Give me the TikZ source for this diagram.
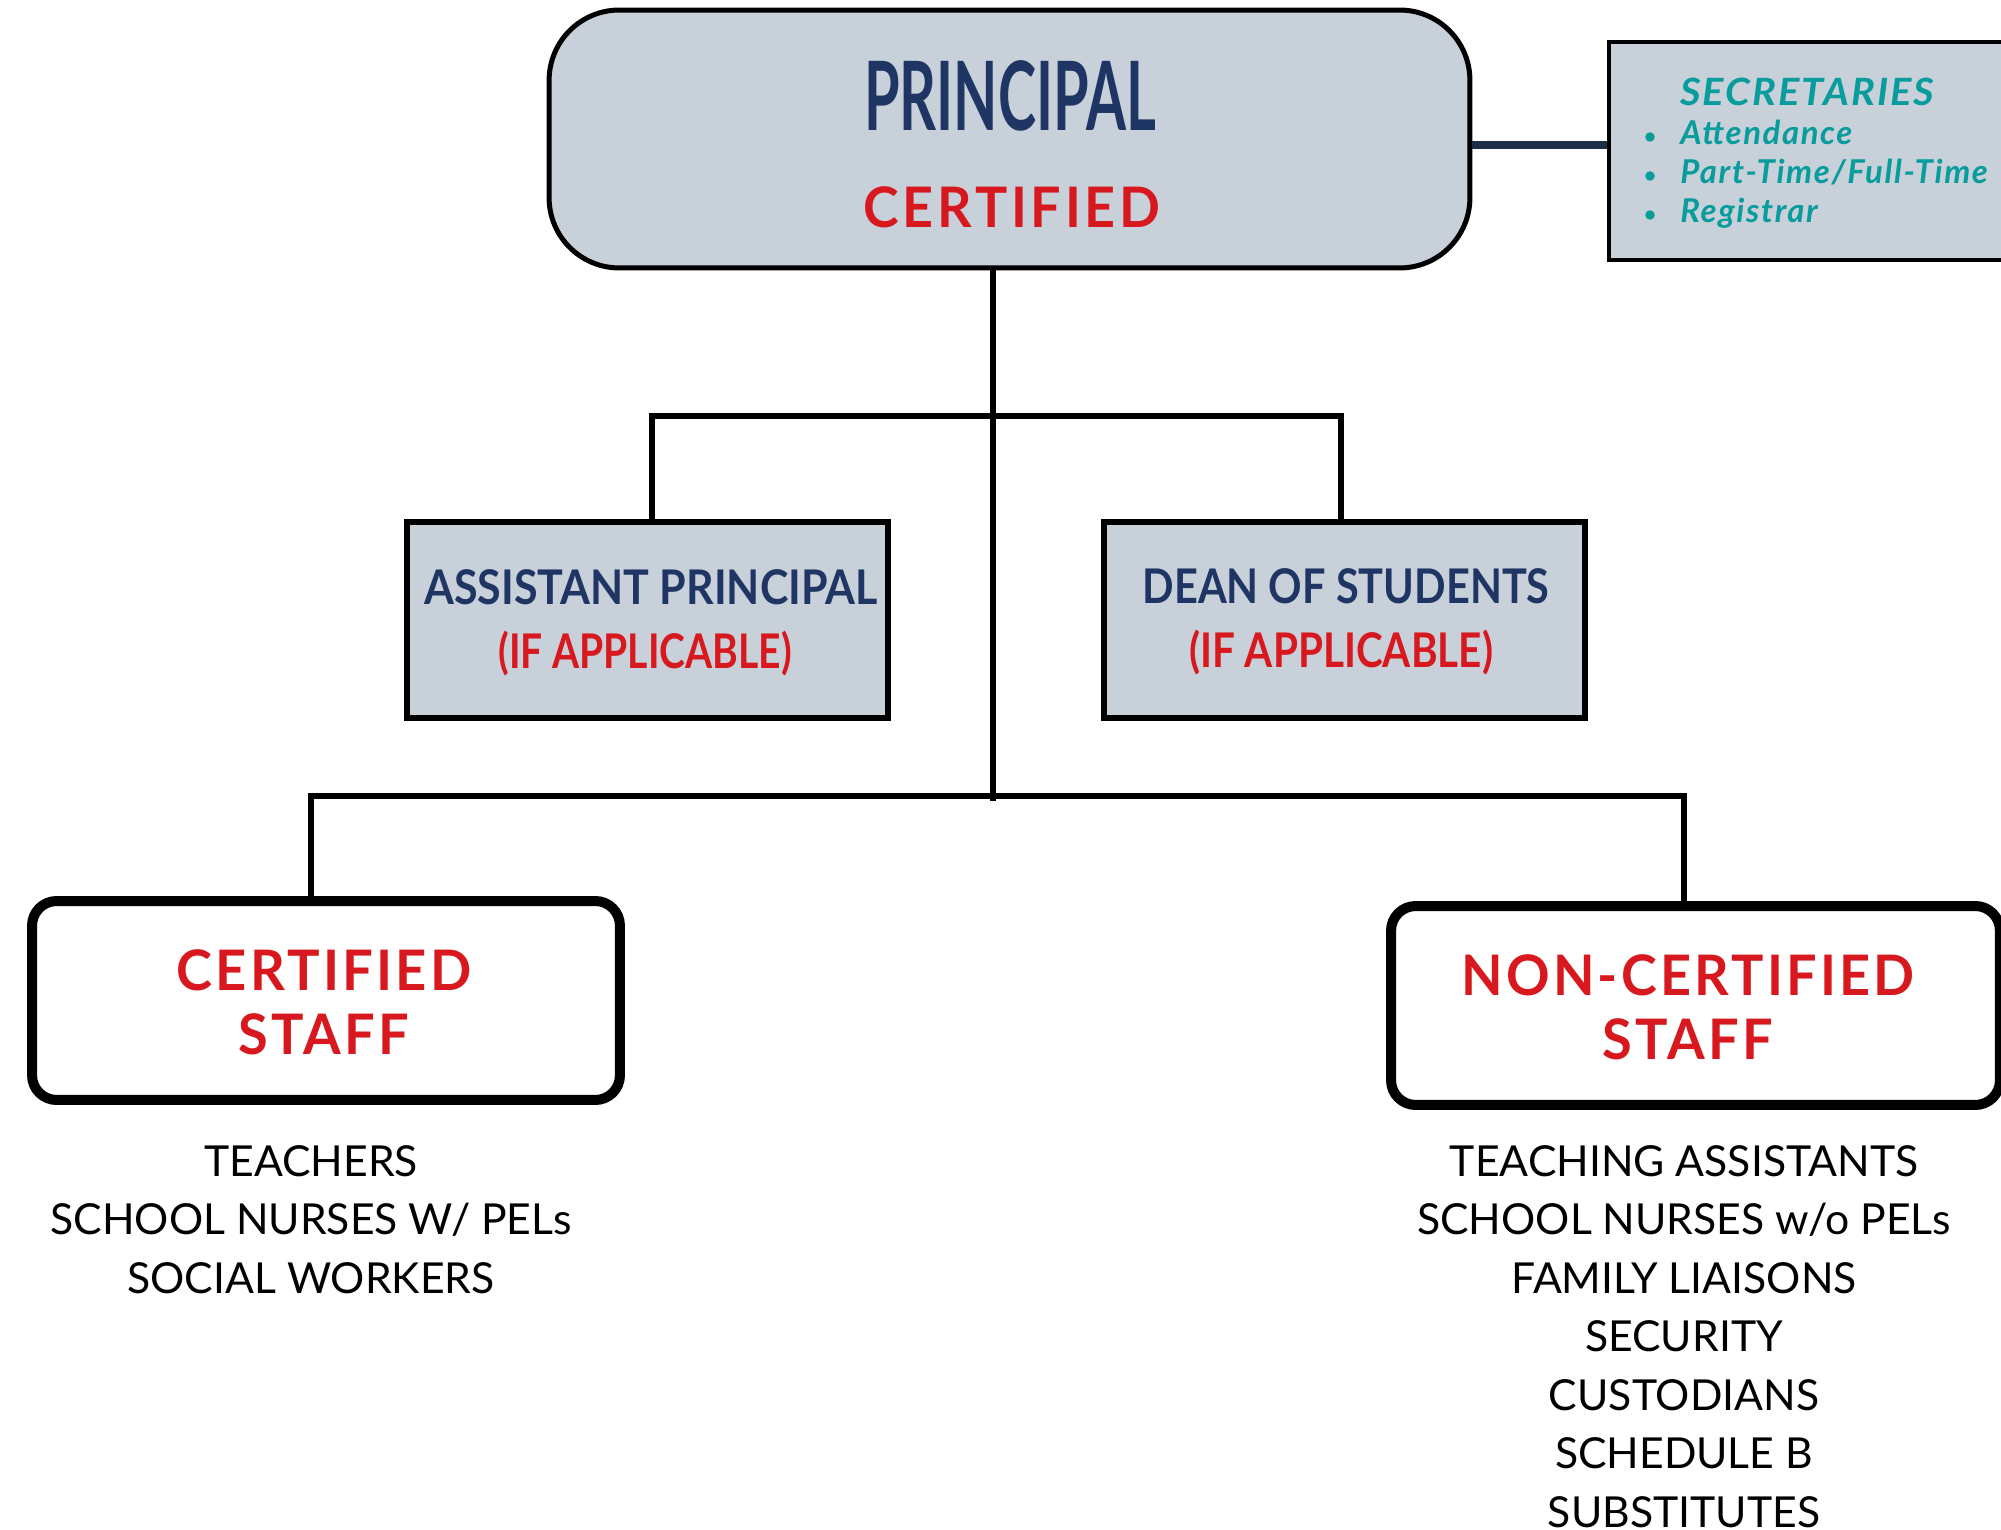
\documentclass[tikz,border=0pt]{standalone}
\usepackage{fontspec}
\usepackage{graphicx}
\setmainfont{Lato}
\usetikzlibrary{positioning}

\definecolor{titlenavy}{HTML}{1F3564}
\definecolor{certred}{HTML}{D7191F}
\definecolor{boxgray}{HTML}{C8D0D9}
\definecolor{secteal}{HTML}{089C9C}
\definecolor{linknavy}{HTML}{1C2E45}

% squeeze or stretch a text to a given width, keeping its height
\newcommand{\wfit}[2]{\resizebox{#1}{\height}{#2}}

\tikzset{
  graybox/.style={draw, line width=3.4pt, fill=boxgray, inner sep=0pt},
  staffbox/.style={draw, line width=5.7pt, rounded corners=14pt, fill=white, inner sep=0pt,
    minimum height=3.98cm},
  orgline/.style={line width=3.4pt},
  caps/.style={inner sep=0pt, text height=#1, text depth=0pt},
  listtext/.style={caps=17.6pt, font=\fontsize{24.3}{30}\selectfont},
}

\begin{document}
\begin{tikzpicture}[x=0.02cm, y=-0.02cm]
  \useasboundingbox (0,0) rectangle (2001,1530);

  % principal at the top
  \node[graybox, line width=2.85pt, rounded corners=40pt, minimum width=18.42cm, minimum height=5.16cm]
    (principal) at (1009.5,139) {};
  \node[caps=39.8pt, text=titlenavy] (principaltitle) at (1010,96)
    {\resizebox{166pt}{39.8pt}{\bfseries PRINCIPAL}};
  \node[caps=22.8pt, text=certred] (principalcert) at (1012,207)
    {\wfit{169pt}{\fontsize{31.8}{36}\selectfont\bfseries\addfontfeature{LetterSpace=7}CERTIFIED}};

  % secretaries box on the right
  \node[graybox, line width=2.3pt, anchor=north west, minimum width=8.46cm, minimum height=4.36cm]
    (secretaries) at (1607,40) {};
  \node[anchor=base west, inner sep=0pt, text=secteal] (sectitle) at (1680,106)
    {\wfit{144.5pt}{\fontsize{21.4}{24}\selectfont\bfseries\itshape\addfontfeature{LetterSpace=5}SECRETARIES}};
  \foreach \sitem [count=\i] in {Attendance, {Part-Time/Full-Time}, Registrar} {
    \node[circle, fill=secteal, inner sep=0pt, minimum size=0.19cm] (bullet\i) at (1650,{137+39*(\i-1)}) {};
    \node[anchor=base west, inner sep=0pt, text=secteal] (secitem\i) at (1680,{145+39*(\i-1)})
      {\fontsize{18.7}{22}\selectfont\bfseries\itshape\addfontfeature{LetterSpace=5}\sitem};
  }
  \coordinate (seclink) at (1540,145);
  \draw[linknavy, line width=4pt] (principal.east |- seclink) -- (secretaries.west |- seclink);

  % assistant principal and dean
  \node[graybox, minimum width=9.62cm, minimum height=3.92cm] (ap) at (647.5,620) {};
  \node[caps=19.5pt, text=titlenavy] (aptitle) at (651,587)
    {\wfit{258pt}{\fontsize{27.2}{30}\selectfont\bfseries ASSISTANT PRINCIPAL}};
  \node[caps=19.5pt, text=certred] (apnote) at (645,651)
    {\wfit{167pt}{\fontsize{27.2}{30}\selectfont\bfseries (IF APPLICABLE)}};

  \node[graybox, minimum width=9.62cm, minimum height=3.92cm] (dean) at (1344.5,620) {};
  \node[caps=19.5pt, text=titlenavy] (deantitle) at (1346,586)
    {\wfit{231.6pt}{\fontsize{27.2}{30}\selectfont\bfseries DEAN OF STUDENTS}};
  \node[caps=19.5pt, text=certred] (deannote) at (1341,650)
    {\wfit{173pt}{\fontsize{27.2}{30}\selectfont\bfseries (IF APPLICABLE)}};

  % staff boxes
  \node[staffbox, minimum width=11.76cm] (cert) at (326,1000.5) {};
  \node[caps=22.8pt, text=certred] (certtop) at (324,970)
    {\wfit{168pt}{\fontsize{31.8}{36}\selectfont\bfseries\addfontfeature{LetterSpace=6}CERTIFIED}};
  \node[caps=22.8pt, text=certred] (certbottom) at (324,1034)
    {\wfit{97pt}{\fontsize{31.8}{36}\selectfont\bfseries\addfontfeature{LetterSpace=6}STAFF}};

  \node[staffbox, minimum width=12.18cm] (noncert) at (1695.5,1005.5) {};
  \node[caps=22.8pt, text=certred] (noncerttop) at (1688,975)
    {\wfit{258pt}{\fontsize{31.8}{36}\selectfont\bfseries\addfontfeature{LetterSpace=6}NON-CERTIFIED}};
  \node[caps=22.8pt, text=certred] (noncertbottom) at (1688,1039)
    {\wfit{97pt}{\fontsize{31.8}{36}\selectfont\bfseries\addfontfeature{LetterSpace=6}STAFF}};

  % connectors
  \coordinate (apdrop) at (652,416);
  \coordinate (deandrop) at (1341,416);
  \coordinate (trunkend) at (993,801);
  \coordinate (certdrop) at (311,796);
  \coordinate (noncertdrop) at (1684,796);
  \draw[orgline] (principal.south -| trunkend) -- (trunkend);
  \draw[orgline] (apdrop |- ap.north) -- (apdrop) -- (deandrop) -- (deandrop |- dean.north);
  \draw[orgline] (certdrop |- cert.north) -- (certdrop) -- (noncertdrop) -- (noncertdrop |- noncert.north);

  % staff lists
  \foreach \staff [count=\i] in {TEACHERS, SCHOOL NURSES W/ PELs, SOCIAL WORKERS}
    \node[listtext] (certlist\i) at (311,{1161+58.5*(\i-1)}) {\staff};
  \foreach \staff [count=\i] in {TEACHING ASSISTANTS, SCHOOL NURSES w/o PELs, FAMILY LIAISONS,
      SECURITY, CUSTODIANS, SCHEDULE B, SUBSTITUTES}
    \node[listtext] (noncertlist\i) at (1684,{1161+58.5*(\i-1)}) {\staff};
\end{tikzpicture}
\end{document}
